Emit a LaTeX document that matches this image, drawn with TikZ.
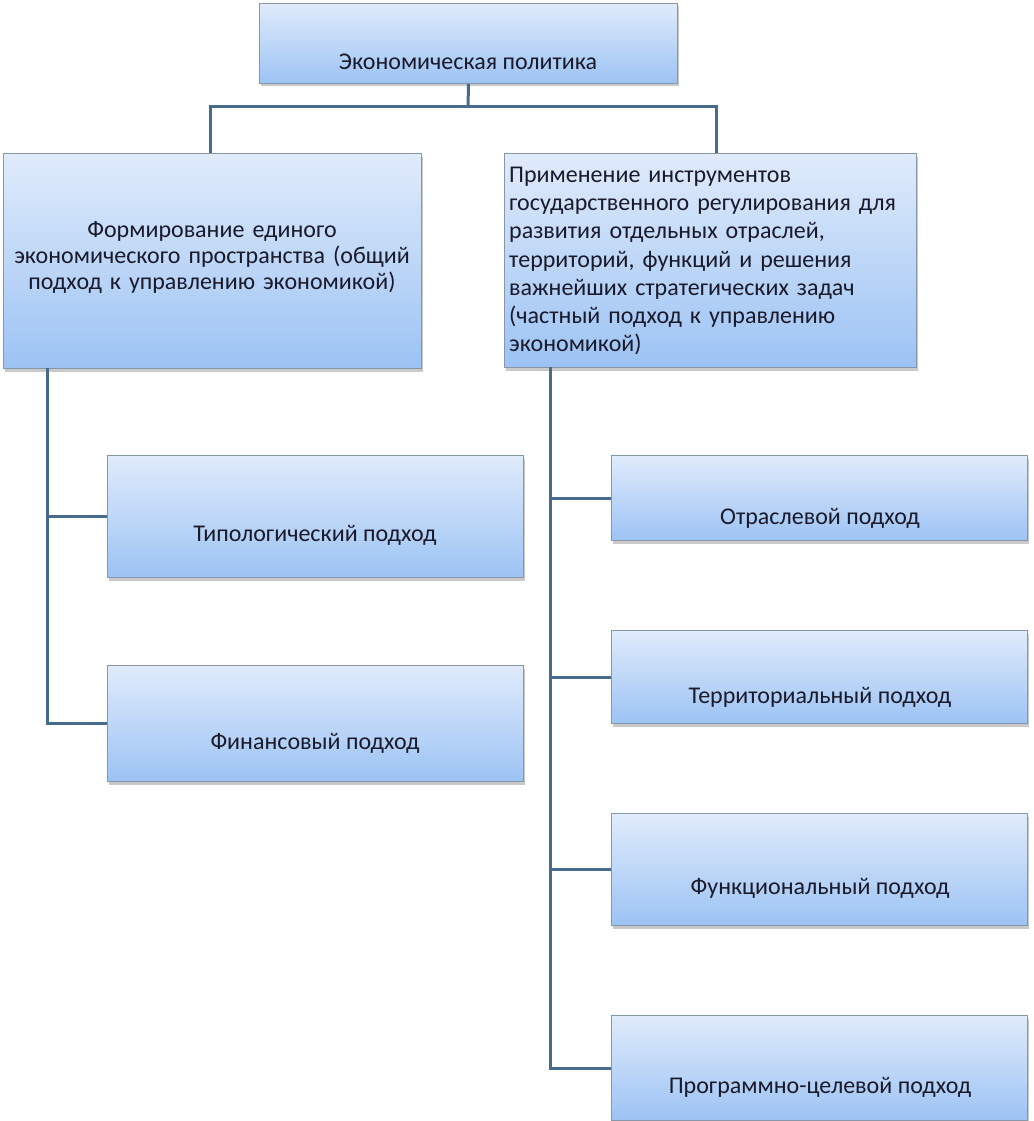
\documentclass[tikz,border=0pt]{standalone}
\usepackage{fontspec}
\setmainfont{Carlito}
\usetikzlibrary{shadows,calc}
\definecolor{boxtop}{HTML}{E0EBFB}
\definecolor{boxbot}{HTML}{9CC3F4}
\definecolor{boxline}{HTML}{8796A8}
\definecolor{connc}{HTML}{466B8C}
\definecolor{txtc}{HTML}{1A1A2A}
\tikzset{
  box/.style={draw=boxline, line width=1pt, top color=boxtop, bottom color=boxbot,
    drop shadow={shadow xshift=1pt, shadow yshift=-3pt, opacity=0.35, fill=black!60},
    inner sep=0pt, anchor=north west},
  lbl/.style={font=\fontsize{24}{26}\selectfont, text=txtc, inner sep=0pt},
  conn/.style={draw=connc, line width=3pt}
}
\begin{document}
\begin{tikzpicture}[x=1pt,y=-1pt]
\useasboundingbox[fill=white] (0,0) rectangle (1033,1121);
% boxes
\node[box, minimum width=418pt, minimum height=80pt] (b0) at (259,3) {};
\node[box, minimum width=418pt, minimum height=215pt] (b1) at (3,153) {};
\node[box, minimum width=412pt, minimum height=214pt] (b2) at (504,153) {};
\node[box, minimum width=416pt, minimum height=122pt] (b3) at (107,455) {};
\node[box, minimum width=416pt, minimum height=116pt] (b4) at (107,665) {};
\node[box, minimum width=416pt, minimum height=85pt] (b5) at (611,455) {};
\node[box, minimum width=416pt, minimum height=93pt] (b6) at (611,630) {};
\node[box, minimum width=416pt, minimum height=112pt] (b7) at (611,813) {};
\node[box, minimum width=416pt, minimum height=105pt] (b8) at (611,1015) {};
% texts
\node[lbl] (t0) at (468,62) {Экономическая политика};
\node[lbl, align=center, text width=414pt] (t1) at (212,257) {Формирование единого\\экономического пространства (общий\\подход к управлению экономикой)};
\node[lbl, align=left, text width=408pt, anchor=west, font=\fontsize{24}{28.3}\selectfont] (t2) at (509,261) {Применение инструментов\\государственного регулирования для\\развития отдельных отраслей,\\территорий, функций и решения\\важнейших стратегических задач\\(частный подход к управлению\\экономикой)};
\node[lbl] (t3) at (315,535) {Типологический подход};
\node[lbl] (t4) at (315,743) {Финансовый подход};
\node[lbl] (t5) at (820,518) {Отраслевой подход};
\node[lbl] (t6) at (820,697) {Территориальный подход};
\node[lbl] (t7) at (820,888) {Функциональный подход};
\node[lbl] (t8) at (820,1087) {Программно-целевой подход};
% connectors
\coordinate (j0) at (468,107);
\coordinate (cl) at (210,153);
\coordinate (cr) at (716,153);
\coordinate (jl) at (47,368);
\coordinate (jr) at (550,367);
\draw[conn] (b0.south) -- (j0);
\draw[conn] (j0) -| (cl);
\draw[conn] (j0) -| (cr);
\draw[conn] (jl) |- (b4.west);
\draw[conn] (jl |- b3.west) -- (b3.west);
\draw[conn] (jr) |- (b8.west);
\draw[conn] (jr |- b5.west) -- (b5.west);
\draw[conn] (jr |- b6.west) -- (b6.west);
\draw[conn] (jr |- b7.west) -- (b7.west);
\end{tikzpicture}
\end{document}
